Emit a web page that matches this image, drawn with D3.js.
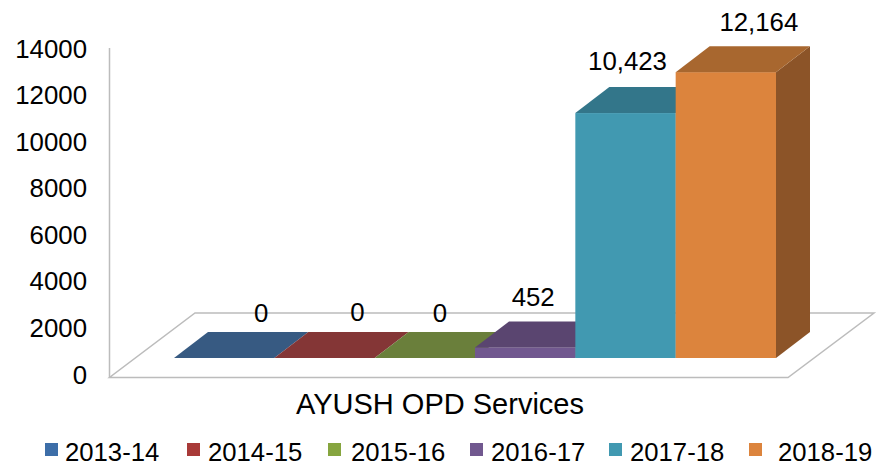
<!DOCTYPE html>
<html>
<head>
<meta charset="utf-8">
<script src="https://cdn.jsdelivr.net/npm/d3@7/dist/d3.min.js"></script>
<style>
html,body{margin:0;padding:0;background:#fff}
svg{display:block}
text{font-family:"Liberation Sans",Arial,sans-serif;fill:#000}
</style>
</head>
<body>
<svg id="c" width="877" height="466"></svg>
<script>
const years = ["2013-14","2014-15","2015-16","2016-17","2017-18","2018-19"];
const values = [0,0,0,452,10423,12164];
const valueLabels = ["0","0","0","452","10,423","12,164"];
const ticks = [0,2000,4000,6000,8000,10000,12000,14000];
const frontColors = ["#3d6ea8","#a83a38","#86a53f","#71588f","#4199b1","#dc843d"];
const topColors = ["#375a82","#843636","#6a7f3b","#5a4570","#33768a","#a8672f"];
const sideColors = ["#2f4d70","#702e2e","#5a6c32","#4c3b60","#2b6475","#8c5428"];
const legendTextX = [65,208,351,491,630,778];
const legendBoxX = [45,187,328,470,609,749];
const labelDx = [20,16,-2,-9,-15,16];
const labelDy = [-10,-11,-10,-15,-17,-15];

const svg = d3.select("#c");
const dx = 34, dy = 26, baseY = 358;
const x = d3.scaleBand().domain(years).range([174,776]).padding(0);
const h = d3.scaleLinear().domain([0,14000]).range([0,329]);
const axisY = d3.scaleLinear().domain([0,14000]).range([375,49]);

// wall and floor
const gc = "#bcbcbc";
svg.append("line").attr("x1",109.5).attr("x2",109.5).attr("y1",48).attr("y2",377.5).attr("stroke",gc).attr("stroke-width",1.5);
svg.append("path").attr("d","M109.5,377.5H788L874,313H195Z").attr("fill","#fff").attr("stroke",gc).attr("stroke-width",1.5);

// tick labels
svg.append("g").selectAll("text").data(ticks).join("text")
  .attr("x",87).attr("y",d=>axisY(d)+8.5).attr("text-anchor","end")
  .attr("font-size",25.8).text(d=>d);

// 3D bars
const g = svg.append("g");
years.forEach((yr,i)=>{
  const x0 = x(yr), w = x.bandwidth(), ht = h(values[i]), yt = baseY-ht;
  if(ht>0){
    g.append("path").attr("d",`M${x0+w},${yt}l${dx},${-dy}V${baseY-dy}L${x0+w},${baseY}Z`).attr("fill",sideColors[i]);
    g.append("rect").attr("x",x0).attr("y",yt).attr("width",w).attr("height",ht).attr("fill",frontColors[i]);
  }
  g.append("path").attr("d",`M${x0},${yt}l${dx},${-dy}h${w}l${-dx},${dy}Z`).attr("fill",topColors[i]);
});

// data labels
svg.append("g").selectAll("text").data(years).join("text")
  .attr("x",(d,i)=>x(d)+x.bandwidth()/2+dx/2+labelDx[i])
  .attr("y",(d,i)=>baseY-h(values[i])-dy+labelDy[i])
  .attr("text-anchor","middle").attr("font-size",25.8)
  .text((d,i)=>valueLabels[i]);

// category label
svg.append("text").attr("x",440).attr("y",414).attr("text-anchor","middle").attr("font-size",29).text("AYUSH OPD Services");

// legend
const lg = svg.append("g");
years.forEach((yr,i)=>{
  lg.append("rect").attr("x",legendBoxX[i]).attr("y",443).attr("width",13).attr("height",13).attr("fill",frontColors[i]);
  lg.append("text").attr("x",legendTextX[i]).attr("y",460.5).attr("font-size",25.7).text(yr);
});
</script>
</body>
</html>
